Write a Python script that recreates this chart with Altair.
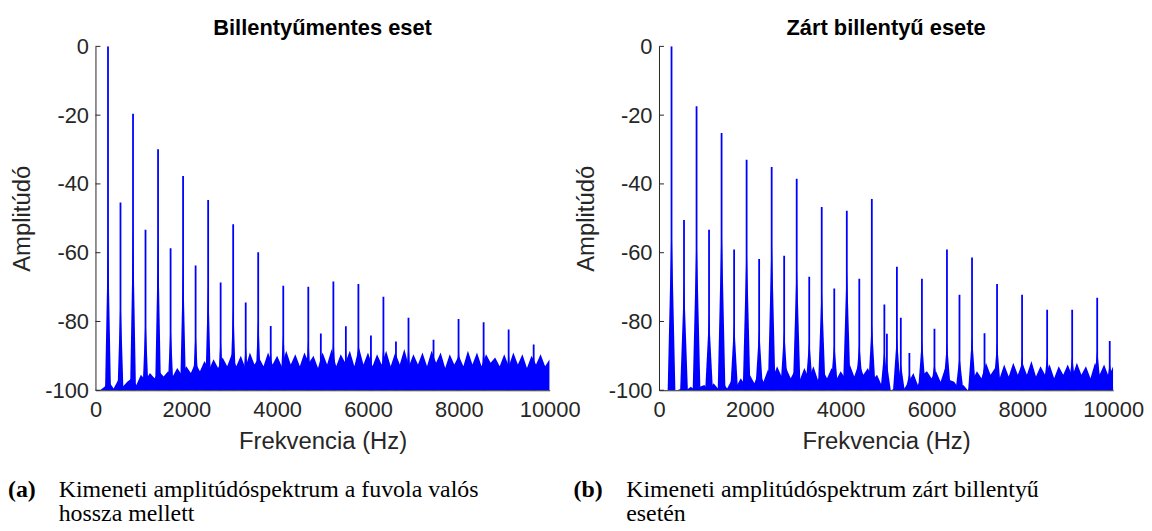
import altair as alt
import pandas as pd

# ---------------- data ----------------
x_ticks = [0, 2000, 4000, 6000, 8000, 10000]
y_ticks = [0, -20, -40, -60, -80, -100]

# Left panel: "Billentyűmentes eset"
left_peak_freq = [276, 551, 827, 1102, 1378, 1654, 1929, 2205, 2481, 2756, 3032, 3308,
                  3583, 3859, 4135, 4686, 4962, 5238, 5513, 5789, 6065, 6340, 6616,
                  6892, 7443, 7994, 8546, 9097, 9648]
left_peak_db = [0, -45.4, -19.6, -53.3, -29.9, -58.7, -37.7, -63.7, -44.7, -68.7, -51.7, -74.5,
                -59.9, -81.3, -69.6, -69.9, -83.5, -68.4, -81.4, -69.1, -84.1, -72.8, -85.8,
                -78.9, -85.3, -79.3, -80.2, -82.3, -86.7]
left_skirt_db = [-55, -72, -52, -78, -55, -80, -62, -82, -68, -84, -74, -86,
                 -78, -88, -82, -84, -88, -84, -88, -85, -89, -86, -89,
                 -86, -89, -87, -87, -88, -89]

# Right panel: "Zárt billentyű esete"
right_peak_freq = [276, 551, 827, 1102, 1378, 1654, 1929, 2205, 2481, 2756, 3032, 3308,
                   3583, 3859, 4135, 4410, 4686, 4962, 5018, 5238, 5324, 5513, 5789,
                   6065, 6340, 6616, 6892, 7167, 7443, 7994, 8546, 9097, 9648, 9924]
right_peak_db = [0, -50.5, -17.4, -53.3, -25.2, -59.1, -33.0, -61.8, -35.1, -60.9, -38.5, -67.0,
                 -46.7, -70.4, -47.8, -67.6, -44.4, -75.1, -83.6, -64.1, -78.9, -89.2, -67.6,
                 -82.1, -59.1, -72.2, -61.4, -83.4, -69.1, -72.2, -76.6, -76.6, -73.1, -85.7]
right_skirt_db = [-50, -68, -53, -78, -50, -80, -56, -82, -54, -82, -62, -85,
                  -69, -86, -63, -86, -80, -88, -92, -84, -92, -95, -85,
                  -92, -86, -90, -84, -92, -86, -90, -90, -90, -88, -92]

# noise floor (upper envelope) read every 100 Hz
noise_freq = list(range(0, 10001, 100))
left_noise_db = [
    -100, -100, -99, -97.5, -99.5, -97, -99, -97.5, -96.5, -98.5,
    -95.5, -97, -95, -96.5, -94.5, -96, -94.5, -96, -93.5, -95.5,
    -93, -95, -92, -94.5, -91.5, -94, -91, -93.5, -90.5, -93,
    -89.5, -93, -90, -93.5, -89, -92.5, -90.5, -93, -89, -92.5,
    -90, -93, -88.5, -92.5, -89.5, -93, -89, -92, -90, -93.5,
    -89, -92.5, -88, -93, -89.5, -92, -88.5, -93, -87.5, -92.5,
    -89, -93, -89.5, -92.5, -88.5, -93, -89, -92.5, -88, -93,
    -89.5, -92.5, -89, -93, -88.5, -92, -89, -93.5, -89.5, -92.5,
    -90, -93, -88.5, -92.5, -89, -93, -89.5, -92, -90.5, -93,
    -89.5, -93, -89, -92.5, -89.5, -93.5, -90, -92.5, -89.5, -93, -91]
right_noise_db = [
    -100, -100, -100, -100, -100, -99.5, -100, -99, -100, -99,
    -98.5, -100, -98, -99.5, -97.5, -99.5, -97, -99, -96.5, -98.5,
    -95.5, -98, -94.5, -97.5, -94, -96.5, -93, -96, -93.5, -96.5,
    -94, -97, -93.5, -96.5, -93, -97, -94, -96.5, -93.5, -97,
    -94.5, -96.5, -92.5, -96, -92, -95.5, -93.5, -97, -95.5, -98.5,
    -99, -100, -99.5, -100, -99.5, -97.5, -95, -98.5, -95.5, -94.5,
    -96.5, -94.5, -97.5, -93.5, -97, -97.5, -99.5, -98.5, -100, -97,
    -94.5, -96.5, -92, -95.5, -93.5, -96.5, -92.5, -96, -92, -95.5,
    -92, -95.5, -91.5, -96, -93, -95.5, -92.5, -96.5, -93, -95.5,
    -92.5, -96, -92, -95.5, -93, -96.5, -92, -95.5, -92.5, -96, -93]

titles = ["Billentyűmentes eset", "Zárt billentyű esete"]
cap_labels = ["(a)", "(b)"]
cap_line1 = ["Kimeneti amplitúdóspektrum a fuvola valós", "Kimeneti amplitúdóspektrum zárt billentyű"]
cap_line2 = ["hossza mellett", "esetén"]

# ---------------- styling ----------------
BLUE = "#0000ff"
AX = "#262626"
W, H = 457, 346
BASE = -100
SANS = "Liberation Sans"
SERIF = "Liberation Serif"

xs = alt.Scale(domain=[0, 10000], nice=False, zero=False)
ys = alt.Scale(domain=[-100, 0], nice=False, zero=False)

x_axis = alt.Axis(values=x_ticks, title="Frekvencia (Hz)", labelExpr="'' + datum.value",
                  ticks=False, grid=False, domainColor=AX, labelColor=AX, titleColor=AX,
                  labelFont=SANS, titleFont=SANS, labelFontSize=22, titleFontSize=24,
                  titleFontWeight="normal", labelPadding=9, titlePadding=10,
                  labelFlush=False)
y_axis = alt.Axis(values=y_ticks, title="Amplitúdó", labelExpr="'' + datum.value",
                  ticks=False, grid=False, domainColor=AX, labelColor=AX, titleColor=AX,
                  labelFont=SANS, titleFont=SANS, labelFontSize=22, titleFontSize=24,
                  titleFontWeight="normal", labelPadding=7, titlePadding=10,
                  labelFlush=False)


def panel(title, pf, pdb, sdb, ndb, idx, cap_dx, half):
    noise = pd.DataFrame({"f": noise_freq, "db": ndb, "base": BASE})
    peaks = pd.DataFrame({"f": pf, "db": pdb, "base": BASE})
    rows = []
    for i, (f, s) in enumerate(zip(pf, sdb)):
        rows += [{"g": i, "f": f - half, "db": BASE},
                 {"g": i, "f": f, "db": s},
                 {"g": i, "f": f + half, "db": BASE}]
    skirts = pd.DataFrame(rows)
    skirts["base"] = BASE

    noise_l = alt.Chart(noise).mark_area(color=BLUE, opacity=1, clip=True).encode(
        x=alt.X("f:Q", scale=xs, axis=x_axis),
        y=alt.Y("db:Q", scale=ys, axis=y_axis),
        y2="base:Q",
    )
    skirt_l = alt.Chart(skirts).mark_area(color=BLUE, opacity=1, clip=True).encode(
        x=alt.X("f:Q", scale=xs),
        y=alt.Y("db:Q", scale=ys),
        y2="base:Q",
        detail="g:N",
    )
    peak_l = alt.Chart(peaks).mark_rule(color=BLUE, strokeWidth=1.8, clip=True).encode(
        x=alt.X("f:Q", scale=xs),
        y=alt.Y("db:Q", scale=ys),
        y2="base:Q",
    )
    tick_l = alt.Chart(pd.DataFrame({"t": y_ticks})).mark_rule(color=AX, strokeWidth=1).encode(
        y=alt.Y("t:Q", scale=ys),
        x=alt.value(0), x2=alt.value(5),
    )
    txt = pd.DataFrame({"lab": [cap_labels[idx]], "l1": [cap_line1[idx]], "l2": [cap_line2[idx]]})
    lab_l = alt.Chart(txt).mark_text(
        font=SERIF, fontSize=24, fontWeight="bold", align="left", baseline="alphabetic",
        color="black").encode(text="lab:N", x=alt.value(cap_dx[0]), y=alt.value(453))
    l1_l = alt.Chart(txt).mark_text(
        font=SERIF, fontSize=24, align="left", baseline="alphabetic",
        color="black").encode(text="l1:N", x=alt.value(cap_dx[1]), y=alt.value(453))
    l2_l = alt.Chart(txt).mark_text(
        font=SERIF, fontSize=24, align="left", baseline="alphabetic",
        color="black").encode(text="l2:N", x=alt.value(cap_dx[1]), y=alt.value(478))

    return alt.layer(noise_l, skirt_l, peak_l, tick_l, lab_l, l1_l, l2_l).properties(
        width=W, height=H,
        title=alt.TitleParams(title, font=SANS, fontSize=22, fontWeight="bold",
                              color="black", anchor="middle", offset=-5),
    )


left = panel(titles[0], left_peak_freq, left_peak_db, left_skirt_db, left_noise_db,
             0, (-88, -37), 65)
right = panel(titles[1], right_peak_freq, right_peak_db, right_skirt_db, right_noise_db,
              1, (-86, -33), 85)

chart = alt.hconcat(left, right, spacing=110, bounds="flush").properties(
    padding={"left": 0, "top": 8, "right": 0, "bottom": 0},
    background="white",
).configure_view(stroke=None)

chart.save("out.html", embed_options={"renderer": "svg", "actions": False})
